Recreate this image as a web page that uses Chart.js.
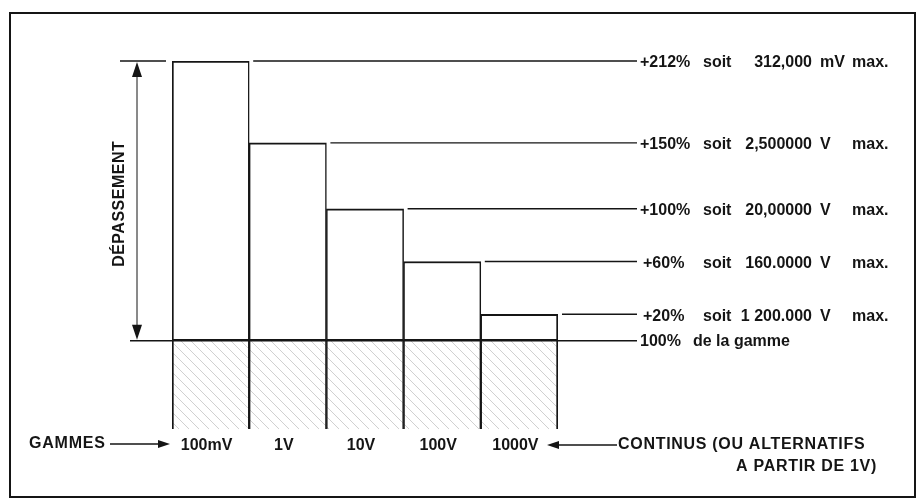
<!DOCTYPE html>
<html lang="fr">
<head>
<meta charset="utf-8">
<title>Dépassement des gammes</title>
<script src="https://cdn.jsdelivr.net/npm/chart.js@4.4.4/dist/chart.umd.min.js"></script>
<style>
  html, body { margin: 0; padding: 0; background: #fff; }
  #zone { width: 920px; height: 499px; position: relative; }
</style>
</head>
<body>
<div id="zone"><canvas id="graphique"></canvas></div>
<script>
/* ═══════════════════════════════════════════
   Dépassement admissible par gamme
   Barre hachurée = 100 % de la gamme
   Barre blanche  = dépassement au-delà
   ═══════════════════════════════════════════ */

const GAMMES         = ['100mV', '1V', '10V', '100V', '1000V'];
const PLEINE_ECHELLE = [100, 100, 100, 100, 100];   // % de la gamme
const DEPASSEMENT    = [212, 150, 100, 60, 20];     // % en plus
const VALEURS_MAX    = ['312,000', '2,500000', '20,00000', '160.0000', '1 200.000'];
const UNITES         = ['mV', 'V', 'V', 'V', 'V'];

/* ── Style ── */
const ENCRE  = '#151515';
const POLICE = "'Liberation Sans', Arial, sans-serif";
const Y_MIN  = 33; // axe tronqué : la bande 0–100 % est comprimée sur le dessin

/* ── Motif hachuré (traits fins en \) ── */
function motifHachure(ctx) {
  const p = 10;
  const c = document.createElement('canvas');
  c.width = p; c.height = p;
  const g = c.getContext('2d');
  g.fillStyle = '#fff';
  g.fillRect(0, 0, p, p);
  g.strokeStyle = '#c4c4c4';
  g.lineWidth = 0.8;
  g.beginPath();
  g.moveTo(0, 0);      g.lineTo(p, p);
  g.moveTo(-1, p - 1); g.lineTo(1, p + 1);
  g.moveTo(p - 1, -1); g.lineTo(p + 1, 1);
  g.stroke();
  return ctx.createPattern(c, 'repeat');
}

/* ── Petites aides de tracé ── */
function trait(ctx, x1, y1, x2, y2, w) {
  ctx.lineWidth = w || 1.3;
  ctx.beginPath();
  ctx.moveTo(x1, y1);
  ctx.lineTo(x2, y2);
  ctx.stroke();
}

function pointe(ctx, x, y, dir) {
  // dir : 'haut', 'bas', 'droite', 'gauche' — x,y = sommet
  ctx.beginPath();
  ctx.moveTo(x, y);
  if (dir === 'haut')   { ctx.lineTo(x - 5, y + 15); ctx.lineTo(x + 5, y + 15); }
  if (dir === 'bas')    { ctx.lineTo(x - 5, y - 15); ctx.lineTo(x + 5, y - 15); }
  if (dir === 'droite') { ctx.lineTo(x - 12, y - 4); ctx.lineTo(x - 12, y + 4); }
  if (dir === 'gauche') { ctx.lineTo(x + 12, y - 4); ctx.lineTo(x + 12, y + 4); }
  ctx.closePath();
  ctx.fill();
}

function texte(ctx, s, x, y, align, espacement) {
  ctx.textAlign = align || 'left';
  ctx.letterSpacing = espacement || '0px';
  ctx.fillText(s, x, y);
  ctx.letterSpacing = '0px';
}

/* ────────────────────────────────────────────
   annotations — cadre, lignes de rappel,
   légendes de droite, cote « DÉPASSEMENT »
─────────────────────────────────────────────── */
const annotations = {
  id: 'annotations',
  beforeDraw(chart) {
    const ctx = chart.ctx;
    ctx.save();
    ctx.fillStyle = '#fff';
    ctx.fillRect(0, 0, chart.width, chart.height);
    ctx.restore();
  },
  afterDatasetsDraw(chart) {
    const { ctx, chartArea: a, scales: { x, y } } = chart;
    const demi   = (a.right - a.left) / GAMMES.length / 2;
    const xTexte = a.right + 82;
    const y100   = y.getPixelForValue(100);
    const yHaut  = y.getPixelForValue(100 + DEPASSEMENT[0]);
    const yBas   = a.bottom + 15;

    ctx.save();
    ctx.strokeStyle = ENCRE;
    ctx.fillStyle = ENCRE;
    ctx.font = 'bold 16px ' + POLICE;
    ctx.textBaseline = 'middle';

    /* Cadre */
    ctx.lineWidth = 2;
    ctx.strokeRect(10, 13, 905, 484);

    /* Lignes de rappel + légendes */
    DEPASSEMENT.forEach(function (d, i) {
      const yi = y.getPixelForValue(100 + d);
      trait(ctx, x.getPixelForValue(i) + demi + 4, yi, xTexte - 3, yi);
      const ty = yi + 2;
      texte(ctx, '+' + d + '%', xTexte + (d < 100 ? 3 : 0), ty);
      texte(ctx, 'soit', xTexte + 63, ty);
      texte(ctx, VALEURS_MAX[i], xTexte + 172, ty, 'right');
      texte(ctx, UNITES[i], xTexte + 180, ty);
      texte(ctx, 'max.', xTexte + 212, ty);
    });

    /* Ligne 100 % de la gamme */
    trait(ctx, a.left - 42, y100, xTexte - 3, y100, 1.5);
    texte(ctx, '100%', xTexte, y100 + 1);
    texte(ctx, 'de la gamme', xTexte + 53, y100 + 1);

    /* Cote verticale DÉPASSEMENT */
    const xCote = a.left - 35;
    trait(ctx, a.left - 52, yHaut, a.left - 6, yHaut);
    trait(ctx, xCote, yHaut + 10, xCote, y100 - 10, 1);
    pointe(ctx, xCote, yHaut + 1, 'haut');
    pointe(ctx, xCote, y100 - 1, 'bas');
    ctx.save();
    ctx.translate(a.left - 52, (yHaut + y100) / 2 + 3);
    ctx.rotate(-Math.PI / 2);
    texte(ctx, 'DÉPASSEMENT', 0, 0, 'center', '0.5px');
    ctx.restore();

    /* GAMMES → */
    texte(ctx, 'GAMMES', 29, yBas, 'left', '0.8px');
    trait(ctx, 110, yBas, 160, yBas);
    pointe(ctx, 170, yBas, 'droite');

    /* ← CONTINUS (OU ALTERNATIFS A PARTIR DE 1V) */
    pointe(ctx, a.right - 11, yBas + 1, 'gauche');
    trait(ctx, a.right - 1, yBas + 1, a.right + 59, yBas + 1);
    texte(ctx, 'CONTINUS (OU ALTERNATIFS', a.right + 60, yBas + 1, 'left', '0.7px');
    texte(ctx, 'A PARTIR DE 1V)', a.right + 319, yBas + 23, 'right', '0.7px');

    ctx.restore();
  }
};

/* ── Graphique ── */
const canvas = document.getElementById('graphique');
const ctx = canvas.getContext('2d');
const hachure = motifHachure(ctx);

function bordures(c) {
  return {
    top: 2, bottom: 2,
    left:  c.dataIndex === 0 ? 2 : 1.5,
    right: c.dataIndex === GAMMES.length - 1 ? 2 : 1.5
  };
}

new Chart(ctx, {
  type: 'bar',
  data: {
    labels: GAMMES,
    datasets: [
      {
        label: '100 % de la gamme',
        data: PLEINE_ECHELLE,
        backgroundColor: hachure,
        borderColor: ENCRE,
        borderWidth: function (c) { const b = bordures(c); b.top = 0; return b; },
        borderSkipped: false,
        categoryPercentage: 1,
        barPercentage: 1
      },
      {
        label: 'Dépassement',
        data: DEPASSEMENT,
        backgroundColor: '#fff',
        borderColor: ENCRE,
        borderWidth: bordures,
        borderSkipped: false,
        categoryPercentage: 1,
        barPercentage: 1
      }
    ]
  },
  options: {
    responsive: true,
    maintainAspectRatio: false,
    animation: false,
    events: [],
    layout: { padding: { left: 172, right: 362, top: 61, bottom: 40 } },
    plugins: {
      legend: { display: false },
      tooltip: { enabled: false }
    },
    scales: {
      x: {
        stacked: true,
        grid: { display: false },
        border: { display: false },
        ticks: {
          color: ENCRE,
          font: { family: POLICE, size: 16, weight: 'bold' },
          padding: -1,
          labelOffset: -4,
          maxRotation: 0
        },
        afterFit: function (s) { s.height = 30; }
      },
      y: {
        stacked: true,
        display: false,
        min: Y_MIN,
        max: 100 + Math.max.apply(null, DEPASSEMENT)
      }
    }
  },
  plugins: [annotations]
});
</script>
</body>
</html>
